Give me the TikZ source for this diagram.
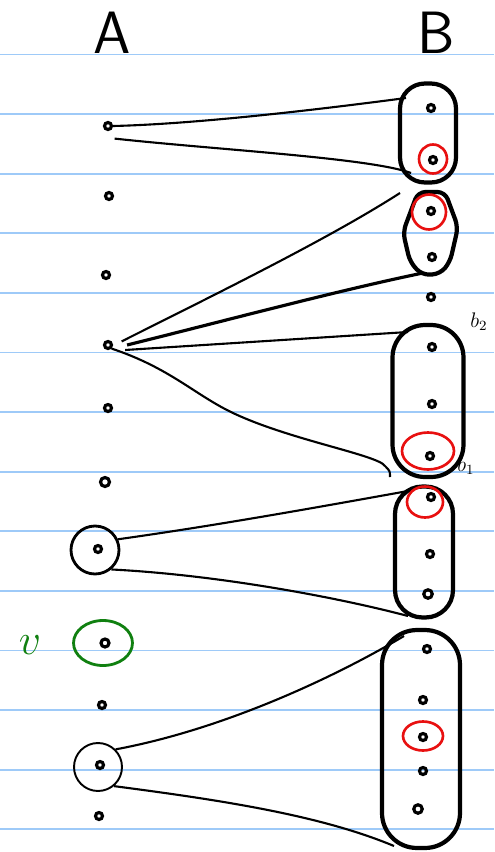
\documentclass[tikz,border=0pt]{standalone}
\usetikzlibrary{shapes.geometric}

\definecolor{ruleblue}{RGB}{158,202,248}
\definecolor{penred}{RGB}{232,16,16}
\definecolor{pengreen}{RGB}{16,128,16}

\tikzset{
  vert/.style={draw, circle, line width=1.8pt, inner sep=0pt, minimum size=0.14cm},
  hub/.style={draw, circle, line width=1.6pt, inner sep=0pt, minimum size=0.96cm},
  grp/.style={draw, line width=2.4pt, inner sep=0pt, rounded corners=0.5cm},
  pick/.style={draw=penred, ellipse, line width=1.5pt, inner sep=0pt},
  link/.style={line width=1.2pt},
}

\begin{document}
\begin{tikzpicture}[x=0.02cm, y=-0.02cm]
  \useasboundingbox (0,0) rectangle (494,852);
  % ruled paper
  \foreach \i in {0,...,13}
    \draw[ruleblue, line width=1.1pt] (0,{54.5+59.6*\i}) -- (494,{54.5+59.6*\i});

  % headings
  \node[font=\sffamily\fontsize{34}{34}\selectfont] (hA) at (112,33) {A};
  \node[font=\sffamily\fontsize{34}{34}\selectfont] (hB) at (436,33) {B};

  % side A
  \node[vert] (a1) at (108,126) {};
  \node[vert] (a2) at (109,196) {};
  \node[vert] (a3) at (106,275) {};
  \node[vert] (a4) at (108,345) {};
  \node[vert] (a5) at (108,408) {};
  \node[vert, minimum size=0.18cm] (a6) at (105,482) {};
  \node[hub] (h7) at (95,550) {};
  \node[vert] (a7) at (98,549) {};
  \node[draw=pengreen, ellipse, line width=1.6pt, inner sep=0pt,
        minimum width=1.18cm, minimum height=0.9cm] (vring) at (103,643) {};
  \node[vert, minimum size=0.16cm] (v) at (105,643) {};
  \node[text=pengreen, font=\fontsize{44}{44}\selectfont] (vlab) at (30,645) {$v$};
  \node[vert] (a9) at (102,705) {};
  \node[hub, line width=1.1pt] (h10) at (98,767) {};
  \node[vert] (a10) at (100,765) {};
  \node[vert] (a11) at (99,816) {};

  % side B, the groups
  \node[grp, minimum width=1.12cm, minimum height=1.98cm] (g1) at (428,133) {};
  \draw[line width=2.4pt, rounded corners=0.15cm]
    (418,192) -- (445,192) -- (458,227) -- (450,262) -- (440,274)
    -- (422,275) -- (410,262) -- (403,232) -- cycle;
  \node[grp, rounded corners=0.65cm, minimum width=1.42cm, minimum height=3.04cm] (g3) at (428,401) {};
  \node[grp, rounded corners=0.55cm, minimum width=1.16cm, minimum height=2.62cm] (g4) at (424,552) {};
  \node[grp, rounded corners=0.7cm, minimum width=1.56cm, minimum height=4.36cm] (g5) at (421,739) {};

  % side B, the vertices
  \node[vert] (b1) at (431,108) {};
  \node[vert] (b2) at (433,160) {};
  \node[vert] (b3) at (431,211) {};
  \node[vert] (b4) at (432,257) {};
  \node[vert] (b5) at (431,297) {};
  \node[vert] (b6) at (432,347) {};
  \node[vert] (b7) at (432,404) {};
  \node[vert] (b8) at (430,456) {};
  \node[vert] (b9) at (431,497) {};
  \node[vert] (b10) at (430,554) {};
  \node[vert, minimum size=0.17cm] (b11) at (428,594) {};
  \node[vert] (b12) at (427,649) {};
  \node[vert] (b13) at (423,700) {};
  \node[vert] (b14) at (423,737) {};
  \node[vert] (b15) at (423,771) {};
  \node[vert, minimum size=0.17cm] (b16) at (418,809) {};

  % red picks
  \node[pick, minimum width=0.56cm, minimum height=0.58cm] (p1) at (433,159) {};
  \node[pick, minimum width=0.68cm, minimum height=0.7cm] (p2) at (429,212) {};
  \node[pick, minimum width=1.04cm, minimum height=0.74cm] (p3) at (428,451) {};
  \node[pick, minimum width=0.72cm, minimum height=0.62cm] (p4) at (425,502) {};
  \node[pick, minimum width=0.8cm, minimum height=0.58cm] (p5) at (423,736) {};

  \node[font=\large] (lb2) at (479,322) {$b_2$};
  \node[font=\large] (lb1) at (466,466) {$b_1$};

  % cone ends on side B
  \coordinate (e1t) at (406,98);
  \coordinate (e1b) at (411,173);
  \coordinate (e2t) at (400,193);
  \coordinate (e2b) at (423,273);
  \coordinate (e3t) at (408,332);
  \coordinate (e3b) at (390,477);
  \coordinate (e4t) at (408,491);
  \coordinate (e4b) at (408,616);
  \coordinate (e5t) at (404,636);
  \coordinate (e5b) at (394,846);

  % cones
  \draw[link] (a1.east) .. controls (200,124) and (330,108) .. (e1t);
  \draw[link] ([shift={(3,9)}]a1.south east) .. controls (220,150) and (370,158) .. (e1b);
  \draw[link] ([shift={(10,0)}]a4.north east) .. controls (220,292) and (330,238) .. (e2t);
  \draw[link, line width=1.8pt] ([shift={(14,0)}]a4.east) .. controls (220,322) and (340,290) .. (e2b);
  \draw[link] ([shift={(12,5)}]a4.east) -- (e3t);
  \draw[link] (a4.south east) .. controls (170,368) and (195,395) .. (233,413)
    .. controls (290,440) and (378,455) .. (385,466) .. controls (390,471) .. (e3b);
  \draw[link] (h7.25) .. controls (220,525) and (330,505) .. (e4t);
  \draw[link] (h7.-50) .. controls (220,575) and (340,598) .. (e4b);
  \draw[link] (h10.45) .. controls (220,730) and (330,680) .. (e5t);
  \draw[link] (h10.-50) .. controls (220,800) and (320,815) .. (e5b);
\end{tikzpicture}
\end{document}
